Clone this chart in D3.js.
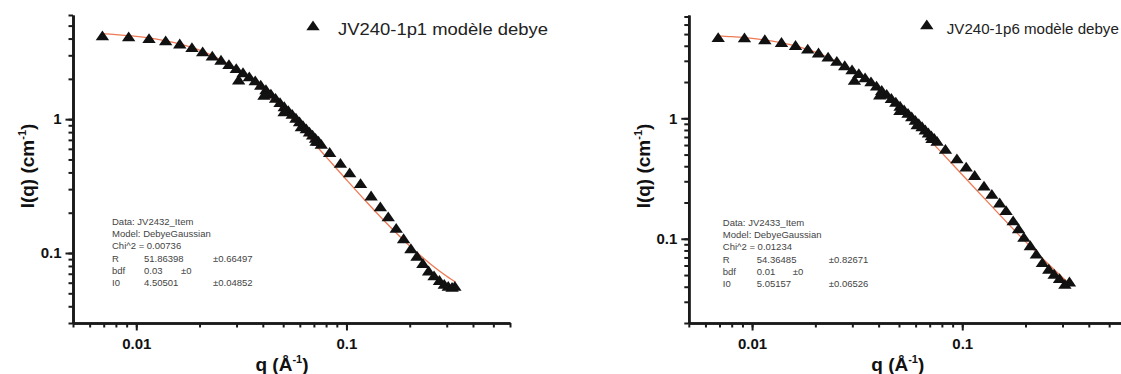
<!DOCTYPE html>
<html><head><meta charset="utf-8">
<script src="https://cdn.jsdelivr.net/npm/d3@7"></script>
<style>body{margin:0;background:#fff}svg{display:block}</style>
</head><body><svg id="c" width="1121" height="374"></svg>
<script>
// ---------- data ----------
const qA = [0.0069, 0.0092, 0.0115, 0.0138, 0.0161, 0.0184, 0.0207, 0.0230, 0.0253, 0.0276, 0.0299, 0.0322, 0.0345, 0.0368, 0.0391, 0.0414, 0.0437, 0.0460, 0.0483, 0.0506, 0.0529, 0.0552, 0.0575, 0.0598, 0.0621, 0.0644, 0.0667, 0.0690, 0.0713, 0.0736, 0.0759];
const leftIA = [4.17, 4.09, 3.97, 3.82, 3.62, 3.40, 3.16, 2.94, 2.74, 2.54, 2.37, 2.21, 2.06, 1.92, 1.78, 1.65, 1.53, 1.42, 1.32, 1.23, 1.15, 1.08, 1.01, 0.95, 0.89, 0.84, 0.795, 0.755, 0.715, 0.68, 0.645];
const leftQB = [0.0307, 0.0405, 0.0505, 0.061, 0.0718, 0.0832, 0.0936, 0.1036, 0.1167, 0.131, 0.145, 0.158, 0.1725, 0.187, 0.2026, 0.2166, 0.231, 0.246, 0.261, 0.277, 0.292, 0.305, 0.318, 0.328];
const leftIB = [1.95, 1.50, 1.13, 0.87, 0.68, 0.56, 0.465, 0.395, 0.328, 0.265, 0.22, 0.185, 0.152, 0.127, 0.107, 0.094, 0.083, 0.073, 0.067, 0.062, 0.058, 0.056, 0.055, 0.056];
const rightIA = [4.64, 4.62, 4.46, 4.23, 3.99, 3.73, 3.46, 3.20, 2.95, 2.71, 2.51, 2.33, 2.15, 1.99, 1.84, 1.69, 1.57, 1.45, 1.35, 1.25, 1.165, 1.09, 1.02, 0.955, 0.895, 0.845, 0.795, 0.75, 0.71, 0.675, 0.64];
const rightQB = [0.0307, 0.0405, 0.0505, 0.061, 0.0718, 0.0832, 0.0943, 0.1044, 0.1146, 0.1269, 0.1383, 0.1507, 0.1616, 0.1747, 0.1853, 0.1964, 0.2108, 0.2252, 0.2406, 0.258, 0.2737, 0.2903, 0.3078, 0.3236];
const rightIB = [2.05, 1.55, 1.15, 0.875, 0.675, 0.548, 0.458, 0.391, 0.333, 0.272, 0.232, 0.197, 0.170, 0.140, 0.120, 0.102, 0.087, 0.074, 0.063, 0.0555, 0.0504, 0.0464, 0.0416, 0.0435];
const fitQ = [0.0068, 0.008, 0.01, 0.0125, 0.015, 0.02, 0.025, 0.03, 0.04, 0.05, 0.06, 0.07, 0.08, 0.1, 0.125, 0.15, 0.2, 0.25, 0.3, 0.33];
const leftFit = [4.354, 4.287, 4.157, 3.965, 3.749, 3.275, 2.795, 2.351, 1.644, 1.171, 0.864, 0.662, 0.523, 0.3525, 0.2393, 0.1764, 0.1130, 0.0833, 0.0671, 0.0607];
const rightFit = [4.836, 4.758, 4.599, 4.366, 4.106, 3.544, 2.985, 2.480, 1.699, 1.192, 0.870, 0.659, 0.516, 0.340, 0.224, 0.1596, 0.0947, 0.0644, 0.0478, 0.0413];
const xMajorTicks = [0.01, 0.1];
const xTickLabels = ["0.01", "0.1"];
const yMajorTicks = [0.1, 1];
const yTickLabels = ["0.1", "1"];
const leftLegend = "JV240-1p1 modèle debye";
const rightLegend = "JV240-1p6 modèle debye";
const leftInfo = [["Data: JV2432_Item"], ["Model: DebyeGaussian"], ["Chi^2 = 0.00736"], ["R", "51.86398", "±0.66497"], ["bdf", "0.03", "±0"], ["I0", "4.50501", "±0.04852"]];
const rightInfo = [["Data: JV2433_Item"], ["Model: DebyeGaussian"], ["Chi^2 = 0.01234"], ["R", "54.36485", "±0.82671"], ["bdf", "0.01", "±0"], ["I0", "5.05157", "±0.06526"]];

// ---------- drawing ----------
const svg = d3.select('#c');
const FONT = "'Liberation Sans', Arial, Helvetica, sans-serif";
const AXC = '#1a1a1a';

function minorVals(dom) {
  const out = [];
  for (let e = -4; e <= 1; e++) for (let m = 1; m <= 9; m++) {
    const v = +(m * Math.pow(10, e)).toPrecision(6);
    if (v >= dom[0] * 0.9999 && v <= dom[1] * 1.0001) out.push(v);
  }
  return out;
}

function panel(c) {
  const x = d3.scaleLog().domain(c.xDomain).range([c.x0, c.x1]);
  const y = d3.scaleLog().domain(c.yDomain).range([323, 15]);
  const g = svg.append('g');

  // fit curve
  const line = d3.line().x((d, i) => x(fitQ[i])).y(d => y(d)).curve(d3.curveMonotoneX);
  g.append('path').attr('d', line(c.fit)).attr('fill', 'none')
    .attr('stroke', '#ee7a55').attr('stroke-width', 1.3);

  // data points
  const pts = c.qA.map((q, i) => [q, c.iA[i]]).concat(c.qB.map((q, i) => [q, c.iB[i]]));
  const sym = d3.symbol().type(d3.symbolTriangle).size(62);
  g.selectAll('path.pt').data(pts).enter().append('path').attr('class', 'pt')
    .attr('d', sym)
    .attr('transform', d => `translate(${x(d[0])},${y(d[1]) + 0.8}) scale(1.12,0.95)`)
    .attr('fill', '#111');

  // axes: minor
  const xMinor = d3.axisBottom(x).tickValues(minorVals(c.xDomain)).tickSize(4.5).tickSizeOuter(0).tickFormat('');
  const yMinor = d3.axisLeft(y).tickValues(minorVals(c.yDomain)).tickSize(4.5).tickSizeOuter(0).tickFormat('');
  const xMajor = d3.axisBottom(x).tickValues(xMajorTicks).tickSize(7.5).tickSizeOuter(0).tickPadding(8)
    .tickFormat((d, i) => xTickLabels[i]);
  const yMajor = d3.axisLeft(y).tickValues(yMajorTicks).tickSize(7.5).tickSizeOuter(0).tickPadding(4)
    .tickFormat((d, i) => yTickLabels[i]);
  const gx = g.append('g').attr('transform', 'translate(0,323)');
  gx.append('g').call(xMinor);
  gx.append('g').call(xMajor);
  const gy = g.append('g').attr('transform', `translate(${c.x0},0)`);
  gy.append('g').call(yMinor);
  gy.append('g').call(yMajor);
  g.selectAll('.domain').attr('stroke', AXC).attr('stroke-width', 2.6);
  g.selectAll('.tick line').attr('stroke', AXC).attr('stroke-width', 2);
  g.selectAll('.tick text').attr('fill', '#111').style('font-family', FONT)
    .style('font-weight', 'bold').style('font-size', '15px');

  // axis titles
  const xt = g.append('text').attr('x', c.x0 + 209).attr('y', 371).attr('text-anchor', 'middle')
    .style('font-family', FONT).style('font-weight', 'bold').style('font-size', '19px').attr('fill', '#111');
  xt.append('tspan').text('q (Å');
  xt.append('tspan').text('-1').attr('dy', -8).style('font-size', '11px');
  xt.append('tspan').text(')').attr('dy', 8);
  const yt = g.append('text').attr('transform', `translate(${c.x0 - 39},166) rotate(-90)`).attr('text-anchor', 'middle')
    .style('font-family', FONT).style('font-weight', 'bold').style('font-size', '19px').attr('fill', '#111');
  yt.append('tspan').text('I(q) (cm');
  yt.append('tspan').text('-1').attr('dy', -8).style('font-size', '11px');
  yt.append('tspan').text(')').attr('dy', 8);

  // legend
  g.append('path').attr('d', sym).attr('transform', `translate(${c.x0 + c.legSym},${c.legY - 8}) scale(1.12,0.95)`).attr('fill', '#111');
  g.append('text').attr('x', c.x0 + c.legTx).attr('y', c.legY).text(c.legend)
    .attr('textLength', c.legW).attr('lengthAdjust', 'spacingAndGlyphs')
    .style('font-family', FONT).style('font-size', c.legFs + 'px').attr('fill', '#222');

  // info block
  const cols = c.cols;
  c.info.forEach((row, i) => {
    const yy = c.infoY + i * 12.2;
    row.forEach((t, j) => {
      let cx = c.x0 + c.infoX;
      if (j === 1) cx += cols[0];
      if (j === 2) cx += (row[0] === 'bdf' ? cols[2] : cols[1]);
      g.append('text').attr('x', cx).attr('y', yy).text(t)
        .style('font-family', FONT).style('font-size', '9.5px').attr('fill', '#444');
    });
  });
}

panel({x0: 73, x1: 510, xDomain: [0.005, 0.6], yDomain: [0.03, 6],
  qA: qA, iA: leftIA, qB: leftQB, iB: leftIB, fit: leftFit,
  legend: leftLegend, legSym: 240, legTx: 265, legY: 35, legW: 210, legFs: 16,
  info: leftInfo, infoX: 39, infoY: 225, cols: [32, 101, 69]});
panel({x0: 688.8, x1: 1125.8, xDomain: [0.005, 0.6], yDomain: [0.02, 7.2],
  qA: qA, iA: rightIA, qB: rightQB, iB: rightIB, fit: rightFit,
  legend: rightLegend, legSym: 238, legTx: 258, legY: 34, legW: 172, legFs: 14,
  info: rightInfo, infoX: 34, infoY: 226, cols: [34, 106, 70]});
</script></body></html>
